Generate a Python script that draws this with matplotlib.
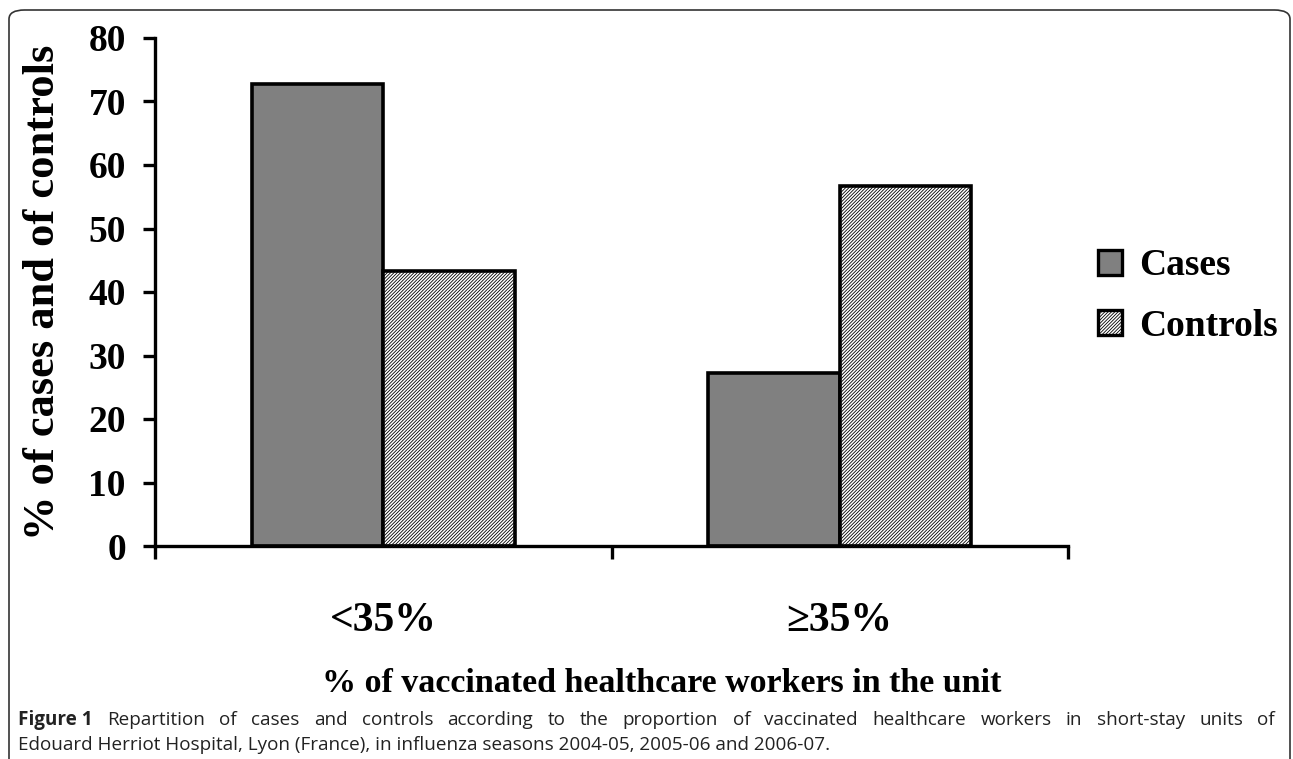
import matplotlib
matplotlib.use("Agg")
import matplotlib.pyplot as plt
from matplotlib.patches import FancyBboxPatch
import numpy as np

# data
groups = ["<35%", "\u226535%"]
cases = [72.7, 27.3]
controls = [43.3, 56.7]
yticks = [0, 10, 20, 30, 40, 50, 60, 70, 80]

caption_bold = "Figure 1"
caption_1 = ("Repartition of cases and controls according to the proportion of "
             "vaccinated healthcare workers in short-stay units of")
caption_2 = ("Edouard Herriot Hospital, Lyon (France), in influenza seasons "
             "2004-05, 2005-06 and 2006-07.")

plt.rcParams['hatch.linewidth'] = 0.6
serif = ['Liberation Serif', 'DejaVu Serif']
W, H = 1293, 759

fig = plt.figure(figsize=(12.93, 7.59), dpi=100)
ax = fig.add_axes([155 / W, 1 - 546 / H, (1068 - 155) / W, (546 - 38) / H])

x = np.arange(len(groups))
w = 0.288
ax.bar(x - w / 2, cases, w, color='#808080', edgecolor='black', linewidth=2.6,
       label='Cases')
ax.bar(x + w / 2, controls, w, color='white', edgecolor='black', linewidth=2.6,
       hatch='//////////', label='Controls')

ax.set_xlim(-0.5, 1.5)
ax.set_ylim(0, 80)
ax.set_yticks(yticks)
ax.set_yticklabels([str(v) for v in yticks], fontfamily=serif,
                   fontweight='bold', fontsize=27)
ax.set_xticks([-0.5, 0.5, 1.5])
ax.set_xticklabels([])
ax.set_xticks(x, minor=True)
ax.set_xticklabels(groups, minor=True, fontfamily=serif, fontweight='bold',
                   fontsize=30)
ax.tick_params(axis='x', which='minor', length=0, pad=40)
ax.tick_params(axis='both', which='major', width=2.4, length=9, direction='out')
ax.tick_params(axis='y', pad=12)

for s in ['top', 'right']:
    ax.spines[s].set_visible(False)
for s in ['left', 'bottom']:
    ax.spines[s].set_linewidth(2.4)

ax.set_ylabel('% of cases and of controls', fontfamily=serif, fontweight='bold',
              fontsize=32)
ax.yaxis.set_label_coords(-0.101, 0.5)
ax.set_xlabel('% of vaccinated healthcare workers in the unit', fontfamily=serif,
              fontweight='bold', fontsize=24.5)
ax.xaxis.set_label_coords(0.555, -0.24)

leg = ax.legend(loc='center left', bbox_to_anchor=(1064 / W, 1 - 296 / H),
                bbox_transform=fig.transFigure, frameon=False,
                prop={'family': serif, 'weight': 'bold', 'size': 27},
                handlelength=0.65, handleheight=0.65, handletextpad=0.45,
                labelspacing=0.68)
for h in leg.legend_handles:
    h.set_linewidth(2.4)

# caption under the chart, first line justified between 18 and 1275 px
cap_size = 13.6
cap_kw = dict(fontfamily='Open Sans', fontsize=cap_size, color='#222222',
              va='center')
renderer = fig.canvas.get_renderer()
words = [(caption_bold, 'bold')] + [(s, 'normal') for s in caption_1.split()]
items = []
for s, wt in words:
    t = fig.text(0, 1 - 720 / H, s, fontweight=wt, **cap_kw)
    items.append((t, t.get_window_extent(renderer).width))
total = sum(wd for _, wd in items)
gap = (1275 - 18 - total) / (len(items) - 1)
xpos = 18
for t, wd in items:
    t.set_x(xpos / W)
    xpos += wd + gap
fig.text(18 / W, 1 - 745 / H, caption_2, **cap_kw)

# rounded frame round the figure
frame = FancyBboxPatch((9 / W, -0.2), 1281 / W, 1.2 - 10 / H,
                       boxstyle='round,pad=0,rounding_size=0.012',
                       transform=fig.transFigure, fill=False,
                       edgecolor='#333333', linewidth=1.2, clip_on=False)
fig.patches.append(frame)

fig.savefig('out.png', dpi=100)
